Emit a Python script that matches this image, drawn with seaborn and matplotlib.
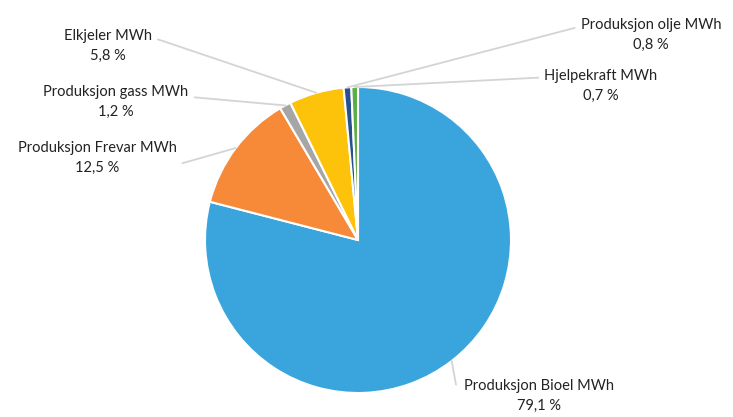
import seaborn as sns
import matplotlib.pyplot as plt
import numpy as np

# data
labels = ["Produksjon Bioel MWh", "Produksjon Frevar MWh", "Produksjon gass MWh",
          "Elkjeler MWh", "Produksjon olje MWh", "Hjelpekraft MWh"]
shares = [79.1, 12.5, 1.2, 5.8, 0.8, 0.7]
pct_text = ["79,1 %", "12,5 %", "1,2 %", "5,8 %", "0,8 %", "0,7 %"]
colors = ["#3aa5dc", "#f78a38", "#a6a6a6", "#fdc20a", "#27508f", "#5aae47"]

sns.set_theme(style="white")
plt.rcParams['font.family'] = ['Lato', 'DejaVu Sans']

W, H = 733, 417
fig = plt.figure(figsize=(W / 100, H / 100), dpi=100)
cx, cy, r = 358, 240, 153
ax = fig.add_axes([(cx - r) / W, (H - cy - r) / H, 2 * r / W, 2 * r / H])

wedges, _ = ax.pie(shares, colors=colors, startangle=90, counterclock=False,
                   wedgeprops=dict(edgecolor="white", linewidth=1.5))
ax.set_xlim(-1, 1)
ax.set_ylim(-1, 1)
ax.set_aspect("equal")
ax.axis("off")

# label spots in pixels (text centre) and where the leader leaves the text
spots = [(539, 396), (97, 158), (116, 102), (108, 46), (651, 35), (601, 86)]
rel = [(-0.05, 0.75), (1.0, 0.3), (1.0, 0.65), (1.0, 0.75), (0.0, 0.75), (0.0, 0.75)]

for w, lab, pct, (px, py), rp in zip(wedges, labels, pct_text, spots, rel):
    ang = np.deg2rad((w.theta1 + w.theta2) / 2)
    tip = (np.cos(ang) * 1.0, np.sin(ang) * 1.0)
    tx, ty = (px - cx) / r, (cy - py) / r
    ax.annotate(lab + "\n" + pct, xy=tip, xytext=(tx, ty),
                ha="center", va="center", multialignment="center",
                fontsize=10.5, color="#222222", linespacing=1.6,
                annotation_clip=False,
                arrowprops=dict(arrowstyle="-", color="#d4d4d4", lw=1.3,
                                shrinkA=2, shrinkB=0, relpos=rp))

fig.savefig("out.png", dpi=100, facecolor="white")
